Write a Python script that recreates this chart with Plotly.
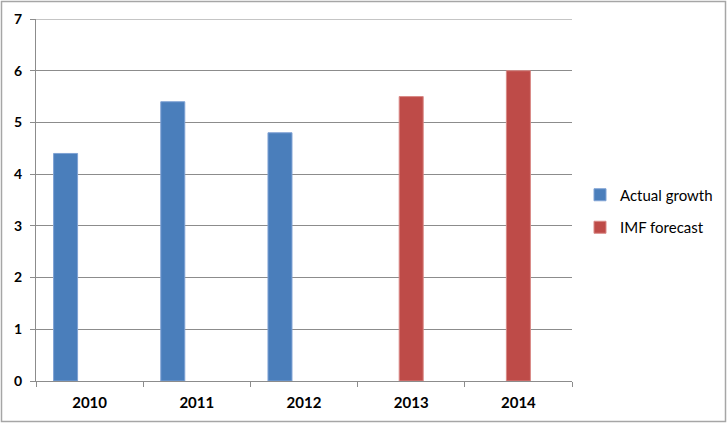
import plotly.graph_objects as go

years = ["2010", "2011", "2012", "2013", "2014"]
actual_growth = [4.4, 5.4, 4.8, None, None]
imf_forecast = [None, None, None, 5.5, 6.0]
empty_series = [None, None, None, None, None]
y_max = 7

fig = go.Figure()
fig.add_trace(go.Bar(x=years, y=actual_growth, name="Actual growth", legendgroup="a",
                     marker=dict(color="#4A7EBB", line=dict(color="#7FA2D4", width=1))))
fig.add_trace(go.Bar(x=years, y=imf_forecast, name="IMF forecast", legendgroup="b",
                     marker=dict(color="#BE4B48", line=dict(color="#D98986", width=1))))
fig.add_trace(go.Bar(x=years, y=empty_series, name="", showlegend=False, legendgroup="c",
                     marker=dict(color="rgba(0,0,0,0)")))

W, H = 727, 425
L, R, T, B = 36, 572, 19, 381
pw, ph = R - L, B - T

def px(x):
    return (x - L) / pw

def py(y):
    return (B - y) / ph

fig.update_layout(
    width=W, height=H,
    margin=dict(l=L, r=W - R, t=T, b=H - B, pad=0, autoexpand=False),
    paper_bgcolor="white", plot_bgcolor="white",
    barmode="group", bargap=0.328, bargroupgap=0,
    font=dict(family="Lato, Carlito, Calibri, sans-serif", size=15, color="#000000"),
    legend=dict(x=px(580), y=py(211), xanchor="left", yanchor="middle",
                font=dict(size=15, color="#000000"), itemwidth=30,
                bgcolor="rgba(0,0,0,0)", tracegroupgap=10),
    showlegend=True,
    shapes=[
        dict(type="rect", xref="paper", yref="paper",
             x0=px(1.5), x1=px(725.5), y0=py(421.5), y1=py(1.5),
             line=dict(color="#A6A6A6", width=1.5), fillcolor="rgba(0,0,0,0)",
             layer="below"),
        dict(type="line", xref="paper", yref="y", x0=0, x1=1, y0=y_max, y1=y_max,
             line=dict(color="#8C8C8C", width=1), layer="below"),
    ],
)
fig.update_yaxes(range=[0, y_max], dtick=1, showgrid=True, gridcolor="#8C8C8C", gridwidth=1,
                 showline=True, linecolor="#8C8C8C", linewidth=1,
                 ticks="outside", ticklen=5, tickcolor="#8C8C8C", ticklabelstandoff=5,
                 tickfont=dict(size=14, family="Lato, sans-serif", color="#000000", weight="bold"),
                 zeroline=False, fixedrange=True)
fig.update_xaxes(type="category", showline=True, linecolor="#8C8C8C", linewidth=1,
                 ticks="outside", tickson="boundaries", ticklen=5, tickcolor="#8C8C8C",
                 ticklabelstandoff=8,
                 tickfont=dict(size=15, family="Lato, sans-serif", color="#000000", weight="bold"),
                 showgrid=False, fixedrange=True)

fig.write_html("out.html", config={"displayModeBar": False},
               post_script="document.body.style.margin='0';")
